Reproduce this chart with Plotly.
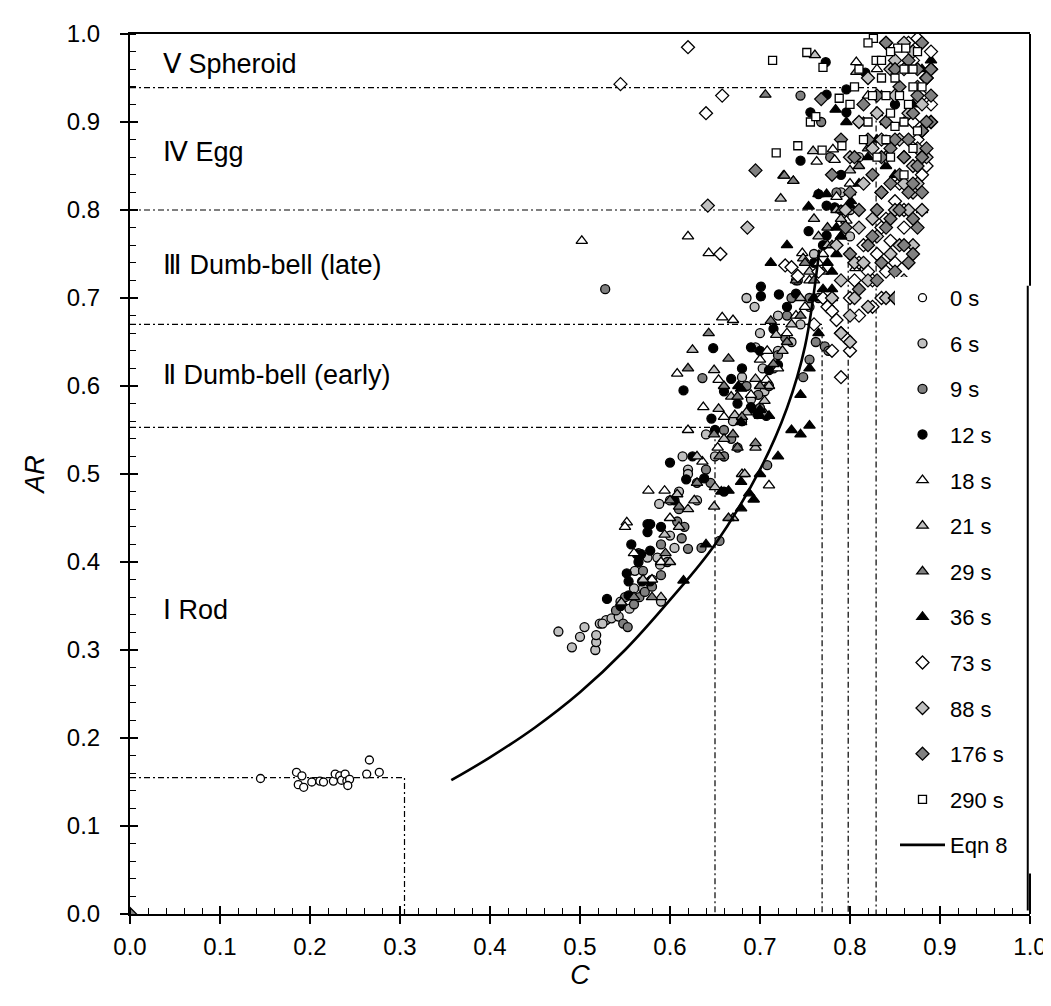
import plotly.graph_objects as go

# ---------------- data ----------------
C0 = [0.145,0.185,0.191,0.187,0.193,0.202,0.211,0.215,0.226,0.228,0.233,0.235,0.239,0.241,0.244,0.242,0.263,0.266,0.277]
A0 = [0.154,0.161,0.157,0.147,0.144,0.150,0.151,0.150,0.151,0.159,0.157,0.152,0.159,0.151,0.153,0.146,0.159,0.175,0.161]

C6 = [0.476,0.491,0.505,0.517,0.518,0.518,0.522,0.529,0.535,0.543,0.555,0.561,0.575,0.586,0.589,0.605,0.588,0.600,0.610,0.614,0.620,0.640,0.660,0.685,0.694,0.695,0.703,0.705,0.680,0.690,0.720,0.735,0.745,0.755,0.765,0.776,0.590,0.570,0.565,0.545,0.790,0.810,0.800,
      0.500,0.525,0.560,0.580,0.600,0.620,0.630,0.650,0.670,0.680,0.700,0.720,0.740,0.760,0.800]
A6 = [0.321,0.303,0.326,0.300,0.309,0.317,0.330,0.334,0.336,0.338,0.347,0.390,0.405,0.405,0.397,0.416,0.466,0.470,0.480,0.520,0.505,0.545,0.520,0.700,0.690,0.644,0.620,0.594,0.560,0.585,0.640,0.650,0.670,0.690,0.700,0.690,0.355,0.370,0.410,0.355,0.820,0.860,0.770,
      0.315,0.330,0.370,0.380,0.430,0.500,0.470,0.520,0.560,0.610,0.660,0.680,0.720,0.750,0.800]

C9 = [0.528,0.540,0.548,0.553,0.560,0.566,0.572,0.580,0.590,0.597,0.608,0.613,0.616,0.620,0.635,0.636,0.655,0.645,0.660,0.668,0.675,0.680,0.690,0.698,0.708,0.715,0.720,0.728,0.735,0.742,0.748,0.755,0.762,0.772,0.776,0.745,0.768,0.778,0.790,
      0.550,0.570,0.590,0.610,0.630,0.640,0.660,0.685,0.700,0.710,0.730,0.755,0.785]
A9 = [0.710,0.345,0.330,0.326,0.352,0.360,0.366,0.372,0.385,0.400,0.446,0.427,0.440,0.415,0.416,0.609,0.424,0.490,0.520,0.540,0.530,0.560,0.575,0.590,0.510,0.620,0.635,0.655,0.700,0.720,0.610,0.630,0.650,0.645,0.640,0.930,0.900,0.860,0.800,
      0.360,0.390,0.420,0.460,0.490,0.505,0.550,0.600,0.575,0.600,0.680,0.700,0.820]

C12 = [0.530,0.552,0.554,0.554,0.557,0.563,0.568,0.569,0.575,0.575,0.578,0.578,0.578,0.600,0.615,0.618,0.638,0.646,0.648,0.660,0.660,0.668,0.690,0.690,0.697,0.701,0.701,0.707,0.710,0.720,0.721,0.745,0.754,0.756,0.765,0.773,0.774,0.774,0.774,0.783,0.796,0.796,0.817,0.770,0.840,0.850,
       0.545,0.565,0.590,0.605,0.625,0.650,0.675,0.680,0.700,0.715,0.730,0.740,0.760,0.790,0.810]
A12 = [0.358,0.387,0.362,0.378,0.420,0.409,0.409,0.378,0.443,0.434,0.443,0.413,0.378,0.513,0.595,0.494,0.495,0.563,0.643,0.594,0.480,0.608,0.644,0.576,0.568,0.713,0.702,0.566,0.618,0.624,0.704,0.856,0.776,0.911,0.818,0.968,0.931,0.805,0.771,0.803,0.937,0.911,0.956,0.760,0.880,0.920,
       0.350,0.400,0.440,0.470,0.520,0.550,0.580,0.620,0.640,0.665,0.690,0.705,0.740,0.840,0.900]

C18 = [0.502,0.552,0.576,0.590,0.594,0.580,0.608,0.636,0.637,0.643,0.653,0.654,0.658,0.670,0.680,0.700,0.707,0.708,0.710,0.747,0.763,0.765,0.781,0.783,0.785,0.796,0.806,0.807,0.620,0.550,
       0.560,0.600,0.620,0.660,0.690,0.720,0.730,0.740,0.750,0.755,0.770,0.790,0.800,0.820,0.830]
A18 = [0.765,0.445,0.481,0.400,0.481,0.380,0.614,0.514,0.576,0.751,0.530,0.607,0.678,0.675,0.500,0.630,0.607,0.640,0.487,0.751,0.855,0.740,0.869,0.857,0.815,0.788,0.734,0.968,0.770,0.440,
       0.410,0.450,0.550,0.565,0.590,0.620,0.660,0.680,0.690,0.720,0.750,0.770,0.830,0.930,0.960]

C21 = [0.546,0.590,0.594,0.600,0.608,0.620,0.625,0.627,0.649,0.649,0.650,0.654,0.668,0.670,0.672,0.683,0.695,0.695,0.705,0.718,0.723,0.726,0.737,0.748,0.759,0.760,0.765,0.790,0.800,0.807,0.761,0.780,0.820,
       0.570,0.610,0.630,0.660,0.685,0.710,0.725,0.735,0.745,0.755,0.775,0.785,0.815,0.835]
A21 = [0.354,0.360,0.431,0.400,0.477,0.460,0.641,0.470,0.618,0.463,0.485,0.574,0.588,0.450,0.567,0.500,0.608,0.530,0.583,0.658,0.813,0.839,0.833,0.745,0.867,0.790,0.770,0.790,0.845,0.957,0.976,0.700,0.880,
       0.380,0.440,0.520,0.540,0.570,0.600,0.640,0.670,0.700,0.730,0.760,0.800,0.900,0.930]

C29 = [0.600,0.610,0.643,0.649,0.665,0.665,0.670,0.675,0.675,0.695,0.706,0.706,0.712,0.727,0.737,0.740,0.750,0.760,0.770,0.780,0.800,0.820,0.840,0.560,0.580,0.620,0.660,
       0.595,0.630,0.655,0.680,0.700,0.715,0.730,0.745,0.760,0.775,0.790,0.810,0.830]
A29 = [0.470,0.463,0.660,0.545,0.631,0.450,0.545,0.588,0.530,0.535,0.568,0.931,0.674,0.839,0.833,0.720,0.740,0.700,0.730,0.760,0.820,0.870,0.900,0.360,0.360,0.620,0.600,
       0.410,0.490,0.520,0.565,0.600,0.625,0.650,0.680,0.720,0.780,0.800,0.850,0.910]

C36 = [0.615,0.657,0.665,0.679,0.679,0.679,0.679,0.676,0.688,0.693,0.700,0.700,0.710,0.712,0.745,0.754,0.755,0.765,0.774,0.780,0.784,0.785,0.796,0.801,0.800,0.830,0.840,0.840,0.880,0.880,0.890,0.760,0.780,0.730,
       0.640,0.700,0.720,0.735,0.745,0.755,0.765,0.770,0.775,0.785,0.790,0.810,0.820,0.850,0.860,0.870]
A36 = [0.379,0.480,0.481,0.461,0.491,0.559,0.597,0.600,0.478,0.471,0.566,0.573,0.566,0.740,0.545,0.804,0.555,0.818,0.818,0.710,0.914,0.780,0.900,0.810,0.805,0.880,0.850,0.860,0.800,0.960,0.970,0.700,0.730,0.760,
       0.420,0.500,0.520,0.550,0.590,0.620,0.660,0.710,0.740,0.750,0.770,0.830,0.860,0.840,0.900,0.920]

C73 = [0.545,0.620,0.640,0.658,0.656,0.728,0.735,0.742,0.765,0.770,0.775,0.780,0.785,0.790,0.790,0.795,0.800,0.805,0.810,0.815,0.820,0.825,0.830,0.835,0.840,0.850,0.855,0.860,0.865,0.870,0.875,0.880,0.885,0.890,0.845,0.860,0.870,
       0.760,0.780,0.800,0.810,0.825,0.835,0.840,0.850,0.860,0.870,0.875,0.880,0.885,0.890]
A73 = [0.943,0.985,0.910,0.930,0.750,0.737,0.735,0.725,0.730,0.700,0.690,0.685,0.675,0.660,0.610,0.655,0.700,0.720,0.740,0.760,0.730,0.690,0.750,0.780,0.790,0.810,0.830,0.860,0.990,0.970,0.995,0.930,0.850,0.920,0.765,0.800,0.900,
       0.670,0.640,0.640,0.680,0.720,0.700,0.730,0.740,0.780,0.820,0.880,0.840,0.950,0.980]

C88 = [0.642,0.686,0.780,0.785,0.790,0.795,0.800,0.800,0.805,0.810,0.810,0.815,0.820,0.820,0.825,0.830,0.830,0.835,0.840,0.840,0.845,0.850,0.850,0.855,0.860,0.860,0.865,0.870,0.870,0.875,0.880,0.880,0.885,0.890,0.790,0.800,0.820,0.840,0.860,0.870,0.875,0.850,
       0.805,0.815,0.825,0.835,0.845,0.855,0.865,0.870,0.875,0.880,0.885,0.890,0.860]
A88 = [0.805,0.780,0.700,0.760,0.720,0.800,0.680,0.860,0.740,0.780,0.900,0.830,0.720,0.950,0.870,0.770,0.910,0.820,0.860,0.990,0.750,0.800,0.930,0.880,0.830,0.960,0.910,0.850,0.980,0.940,0.890,0.920,0.950,0.960,0.660,0.650,0.690,0.700,0.720,0.820,0.870,0.970,
       0.700,0.740,0.790,0.880,0.960,0.760,0.800,0.760,0.830,0.800,0.860,0.900,0.990]

C176 = [0.000,0.695,0.768,0.780,0.790,0.795,0.800,0.805,0.810,0.815,0.820,0.820,0.825,0.830,0.830,0.835,0.835,0.840,0.840,0.845,0.850,0.850,0.855,0.855,0.860,0.860,0.865,0.865,0.870,0.870,0.875,0.875,0.880,0.880,0.885,0.885,0.890,0.890,0.810,0.830,0.850,0.870,0.860,0.840,0.880,0.800,
        0.825,0.835,0.845,0.850,0.855,0.865,0.870,0.875,0.880,0.885,0.890,0.865,0.875,0.850,0.845]
A176 = [0.000,0.845,0.926,0.840,0.880,0.780,0.820,0.860,0.800,0.920,0.760,0.880,0.840,0.800,0.930,0.740,0.860,0.780,0.900,0.830,0.730,0.880,0.800,0.940,0.760,0.860,0.820,0.970,0.790,0.910,0.850,0.930,0.820,0.890,0.870,0.950,0.900,0.930,0.710,0.720,0.700,0.750,0.680,0.990,0.990,0.750,
        0.770,0.820,0.870,0.960,0.840,0.880,0.830,0.960,0.860,0.900,0.960,0.740,0.780,0.700,0.790]

C290 = [0.714,0.752,0.770,0.756,0.762,0.718,0.742,0.769,0.791,0.788,0.826,0.829,0.853,0.862,0.866,0.800,0.810,0.820,0.835,0.840,0.845,0.850,0.860,0.865,0.870,0.875,0.880,0.820,0.815,0.830,0.850,0.860,0.840,
        0.805,0.825,0.835,0.845,0.855,0.870,0.875,0.860,0.845,0.870]
A290 = [0.970,0.979,0.962,0.900,0.906,0.865,0.873,0.868,0.873,0.927,0.995,0.970,0.984,0.984,0.960,0.920,0.960,0.990,0.950,0.930,0.910,0.950,0.960,0.920,0.870,0.890,0.940,0.900,0.880,0.860,0.895,0.840,0.880,
        0.940,0.930,0.970,0.980,0.930,0.960,0.980,0.900,0.860,0.940]

C_eqn8 = [0.357,0.400,0.450,0.500,0.550,0.600,0.650,0.700,0.730,0.750,0.766]
AR_eqn8 = [0.152,0.178,0.212,0.252,0.300,0.357,0.420,0.505,0.575,0.645,0.755]

# regime boundaries (C limit, AR limit)
bound_C = [0.305, 0.650, 0.769, 0.798, 0.829]
bound_AR = [0.155, 0.553, 0.670, 0.800, 0.939]

region_names = ["Ⅰ Rod", "Ⅱ Dumb-bell (early)", "Ⅲ Dumb-bell (late)", "Ⅳ Egg", "Ⅴ Spheroid"]
region_AR = [0.345, 0.612, 0.737, 0.866, 0.966]

# right frame: legend box edge spans these AR values
legend_edge_AR = [0.046, 0.714]

series = [
    ("0 s", C0, A0, "circle", "white", 8),
    ("6 s", C6, A6, "circle", "#c0c0c0", 9),
    ("9 s", C9, A9, "circle", "#808080", 9),
    ("12 s", C12, A12, "circle", "black", 9),
    ("18 s", C18, A18, "triangle-up", "white", 10),
    ("21 s", C21, A21, "triangle-up", "#c0c0c0", 10),
    ("29 s", C29, A29, "triangle-up", "#808080", 10),
    ("36 s", C36, A36, "triangle-up", "black", 10),
    ("73 s", C73, A73, "diamond", "white", 10),
    ("88 s", C88, A88, "diamond", "#c0c0c0", 10),
    ("176 s", C176, A176, "diamond", "#808080", 10),
    ("290 s", C290, A290, "square", "white", 8),
]

FONT = "Liberation Sans, Arial, sans-serif"
fig = go.Figure()

# boundary dash-dot lines
for c, a in zip(bound_C, bound_AR):
    fig.add_trace(go.Scatter(x=[0, c, c], y=[a, a, 0], mode="lines",
                             line=dict(color="black", width=1.2, dash="6px,3px,2px,3px"),
                             showlegend=False, hoverinfo="skip"))

for i, (name, cx, ay, sym, col, sz) in enumerate(series):
    fig.add_trace(go.Scatter(x=cx, y=ay, mode="markers", name=name, legendgroup=name,
                             marker=dict(symbol=sym, color=col, size=sz,
                                         line=dict(color="black", width=1.3))))

fig.add_trace(go.Scatter(x=C_eqn8, y=AR_eqn8, mode="lines", name="Eqn 8", legendgroup="eqn",
                         line=dict(color="black", width=2.6, shape="spline")))

for name, a in zip(region_names, region_AR):
    fig.add_annotation(x=0.034, y=a, text=name, showarrow=False, xanchor="left",
                       yanchor="middle", font=dict(size=27, family=FONT, color="black"))

# right frame: plot edge above and below the legend, legend edge slightly inset
lo, hi = legend_edge_AR
fig.add_shape(type="line", xref="paper", yref="y", x0=1, x1=1, y0=hi, y1=1,
              line=dict(color="black", width=2))
fig.add_shape(type="line", xref="paper", yref="y", x0=1, x1=1, y0=0, y1=lo,
              line=dict(color="black", width=2))
fig.add_shape(type="line", xref="paper", yref="y", x0=0.9975, x1=0.9975, y0=0.004, y1=hi,
              line=dict(color="black", width=2))

axis_common = dict(range=[0, 1], showgrid=False, zeroline=False, showline=True,
                   linecolor="black", linewidth=2,
                   ticks="outside", ticklen=8, tickwidth=1.5, tickcolor="black",
                   dtick=0.1, tick0=0, tickformat=".1f",
                   tickfont=dict(size=24, family=FONT, color="black"),
                   minor=dict(ticks="inside", ticklen=6, tickwidth=1.2, tickcolor="black", dtick=0.02))

fig.update_layout(
    width=1051, height=1006,
    margin=dict(l=122, r=23, t=19, b=100),
    paper_bgcolor="white", plot_bgcolor="white",
    font=dict(family=FONT, color="black"),
    xaxis=dict(**axis_common, mirror=True, ticklabelstandoff=2,
               title=dict(text="<i>C</i>", font=dict(size=27, family=FONT), standoff=4)),
    yaxis=dict(**axis_common, mirror=False, ticklabelstandoff=15,
               title=dict(text="<i>AR</i>", font=dict(size=27, family=FONT), standoff=14)),
    xaxis2=dict(range=[0, 1], overlaying="x", showgrid=False, zeroline=False, showline=False,
                ticks="inside", ticklen=8, tickwidth=1.5, tickcolor="black", dtick=0.1, tick0=0,
                showticklabels=False, side="bottom"),
    yaxis2=dict(range=[0, 1], overlaying="y", showgrid=False, zeroline=False, showline=False,
                ticks="inside", ticklen=8, tickwidth=1.5, tickcolor="black", dtick=0.1, tick0=0,
                showticklabels=False, side="left"),
    legend=dict(x=0.850, y=0.724, xanchor="left", yanchor="top", bgcolor="white",
                font=dict(size=22, family=FONT, color="black"), itemwidth=45,
                traceorder="grouped", tracegroupgap=14, itemsizing="trace"),
    showlegend=True,
)
fig.add_trace(go.Scatter(x=[None], y=[None], xaxis="x2", yaxis="y2", showlegend=False, hoverinfo="skip"))

fig.write_html("out.html")
